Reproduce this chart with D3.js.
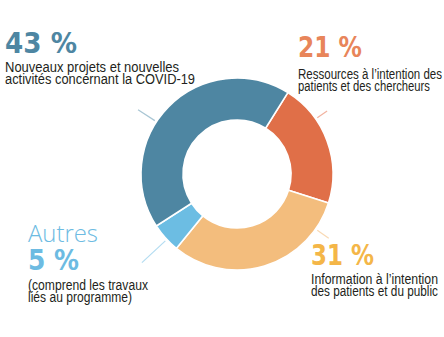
<!DOCTYPE html>
<html><head><meta charset="utf-8">
<script src="https://cdn.jsdelivr.net/npm/d3@7"></script>
<style>html,body{margin:0;padding:0;background:#fff;}svg{display:block;}</style>
</head><body>
<svg id="c" width="444" height="337"></svg>
<script>
const categories = ["Ressources", "Information", "Autres", "Nouveaux"];
const values = [21, 31, 5, 43];
const colors = ["#e06f48", "#f3bd7d", "#6cbde3", "#4e86a2"];
const leaderColors = ["#f2b3a0", "#f9d9b4", "#b3dcf1", "#a9c6d4"];
const leaderAngles = [55, 125, 227, 303];
const leaderLen = [12, 14, 32, 20];
const pctLabels = ["21 %", "31 %", "5 %", "43 %"];
const pctColors = ["#e8855a", "#f4b648", "#6dbbe2", "#4e86a2"];
const descLines = [
  ["Ressources à l’intention des", "patients et des chercheurs"],
  ["Information à l’intention", "des patients et du public"],
  ["(comprend les travaux", "liés au programme)"],
  ["Nouveaux projets et nouvelles", "activités concernant la COVID-19"]
];

const svg = d3.select("#c");
const cx = 237, cy = 174, R = 96, r = 54;
const start = 32 * Math.PI / 180;
const pie = d3.pie().sort(null).value(d => d).startAngle(start).endAngle(start + 2 * Math.PI);
const arc = d3.arc().innerRadius(r).outerRadius(R);
const g = svg.append("g").attr("transform", `translate(${cx},${cy})`);
g.selectAll("path").data(pie(values)).join("path")
  .attr("d", arc).attr("fill", (d, i) => colors[i])
  .attr("stroke", "#fff").attr("stroke-width", 1.6);

// leader lines
leaderAngles.forEach((a, i) => {
  const t = a * Math.PI / 180;
  const r0 = R + 2, r1 = R + 2 + leaderLen[i];
  g.append("line")
    .attr("x1", r0 * Math.sin(t)).attr("y1", -r0 * Math.cos(t))
    .attr("x2", r1 * Math.sin(t)).attr("y2", -r1 * Math.cos(t))
    .attr("stroke", leaderColors[i]).attr("stroke-width", 1.2);
});

const bigFont = "'DejaVu Sans', sans-serif";
const smallFont = "'Liberation Sans Narrow', 'Liberation Sans', sans-serif";
const layout = [
  {x: 298, pb: 57, pw: 64, db: 79, dw: [144, 132]},
  {x: 311, pb: 265, pw: 63, db: 284, dw: [127, 127]},
  {x: 28, pb: 270, pw: 51, db: 290, dw: [120, 104]},
  {x: 5, pb: 53, pw: 72, db: 72, dw: [174, 190]}
];
layout.forEach((L, i) => {
  svg.append("text").attr("x", L.x).attr("y", L.pb)
    .attr("font-family", bigFont).attr("font-weight", "bold").attr("font-size", 29)
    .attr("fill", pctColors[i]).attr("textLength", L.pw).attr("lengthAdjust", "spacingAndGlyphs")
    .text(pctLabels[i]);
  descLines[i].forEach((line, j) => {
    svg.append("text").attr("x", L.x).attr("y", L.db + j * 12)
      .attr("font-family", smallFont).attr("font-size", 14).attr("fill", "#231f20")
      .attr("textLength", L.dw[j]).attr("lengthAdjust", "spacingAndGlyphs")
      .text(line);
  });
});
svg.append("text").attr("x", 28).attr("y", 242)
  .attr("font-family", "'Open Sans', sans-serif").attr("font-weight", 300).attr("font-size", 24)
  .attr("fill", "#6dbbe2").attr("textLength", 70).attr("lengthAdjust", "spacingAndGlyphs")
  .text("Autres");
</script>
</body></html>
